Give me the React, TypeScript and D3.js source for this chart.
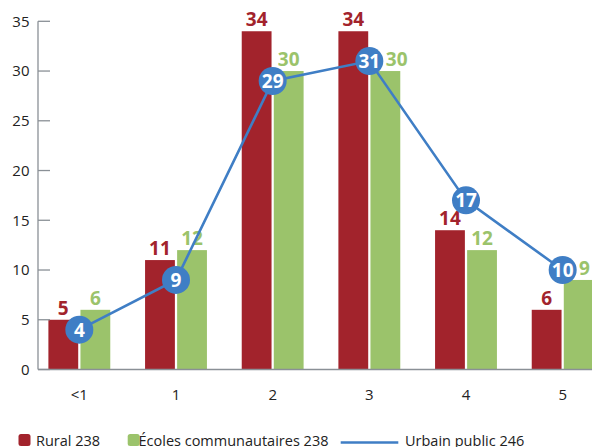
import React from 'react';
import * as d3 from 'd3';

const categories = ['<1', '1', '2', '3', '4', '5'];
const rural = [5, 11, 34, 34, 14, 6];
const ecoles = [6, 12, 30, 30, 12, 9];
const urbain = [4, 9, 29, 31, 17, 10];
const yTicks = [0, 5, 10, 15, 20, 25, 30, 35];

const W = 592;
const H = 447;
const RED = '#A2232C';
const GREEN = '#9BC36B';
const BLUE = '#3F7EC5';
const AXIS = '#8A9096';
const FONT = '"Open Sans", "DejaVu Sans", sans-serif';

export default function App() {
  const x0 = d3.scaleBand<string>()
    .domain(categories)
    .range([31, 611])
    .paddingInner(0.36)
    .paddingOuter(0.18);
  const x1 = d3.scaleBand<string>()
    .domain(['rural', 'ecoles'])
    .range([0, x0.bandwidth()])
    .paddingInner(0.07);
  const y = d3.scaleLinear().domain([0, 35]).range([369.5, 21.3]);

  const axisX = 38;
  const r = 14;
  const center = (c: string) => (x0(c) as number) + x0.bandwidth() / 2;

  const line = d3.line<number>()
    .x((_, i) => center(categories[i]))
    .y(d => y(d));

  const labelW = (v: number) => String(v).length * 11.3;

  return (
    <svg width={W} height={H} style={{ position: 'absolute', left: 0, top: 0, fontFamily: FONT }}>
      <rect width={W} height={H} fill="#fff" />

      {/* bars */}
      {categories.map((c, i) => (
        <g key={c} transform={`translate(${x0(c)},0)`}>
          <rect x={x1('rural')} y={y(rural[i])} width={x1.bandwidth()} height={y(0) - y(rural[i])} fill={RED} />
          <rect x={x1('ecoles')} y={y(ecoles[i])} width={x1.bandwidth()} height={y(0) - y(ecoles[i])} fill={GREEN} />
        </g>
      ))}

      {/* axes */}
      <line x1={axisX} x2={axisX} y1={y(35)} y2={y(0)} stroke={AXIS} strokeWidth={1.3} />
      <line x1={axisX} x2={W} y1={y(0)} y2={y(0)} stroke={AXIS} strokeWidth={1.3} />
      {yTicks.map(t => (
        <g key={t}>
          <line x1={axisX} x2={axisX + 12} y1={y(t)} y2={y(t)} stroke={AXIS} strokeWidth={1.3} />
          <text x={29.5} y={y(t)} dy="0.36em" textAnchor="end" fontSize={15} fill="#222">{t}</text>
        </g>
      ))}
      {categories.map(c => (
        <text key={c} x={center(c)} y={400} textAnchor="middle" fontSize={15} fill="#222">{c}</text>
      ))}

      {/* value labels on bars */}
      {categories.map((c, i) => {
        const rx = (x0(c) as number) + (x1('rural') as number) + x1.bandwidth() / 2;
        let gx = (x0(c) as number) + (x1('ecoles') as number) + x1.bandwidth() / 2;
        const gy = y(ecoles[i]) - 5;
        const cx = center(c);
        const cy = y(urbain[i]);
        const w = labelW(ecoles[i]);
        const overlaps = gx - w / 2 < cx + r && gx + w / 2 > cx - r && gy - 14 < cy + r && gy > cy - r;
        if (overlaps) gx = cx + r + 2 + w / 2;
        return (
          <g key={c} fontWeight={700} fontSize={19} textAnchor="middle">
            <text x={rx} y={y(rural[i]) - 5} fill={RED}>{rural[i]}</text>
            <text x={gx} y={gy} fill={GREEN}>{ecoles[i]}</text>
          </g>
        );
      })}

      {/* line series */}
      <path d={line(urbain) as string} fill="none" stroke={BLUE} strokeWidth={2.6} />
      {urbain.map((v, i) => (
        <g key={i}>
          <circle cx={center(categories[i])} cy={y(v)} r={r} fill={BLUE} />
          <text x={center(categories[i])} y={y(v)} dy="0.36em" textAnchor="middle" fontSize={19} fontWeight={700} fill="#fff">{v}</text>
        </g>
      ))}

      {/* legend */}
      <g fontSize={14.5} fill="#222">
        <rect x={18.5} y={434} width={12} height={12} rx={2.5} fill={RED} />
        <text x={36} y={446}>Rural 238</text>
        <rect x={127.7} y={434} width={12} height={12} rx={2.5} fill={GREEN} />
        <text x={138.5} y={446}>Écoles communautaires 238</text>
        <line x1={340.7} x2={398.3} y1={442.5} y2={442.5} stroke={BLUE} strokeWidth={2.6} />
        <text x={405} y={446}>Urbain public 246</text>
      </g>
    </svg>
  );
}
